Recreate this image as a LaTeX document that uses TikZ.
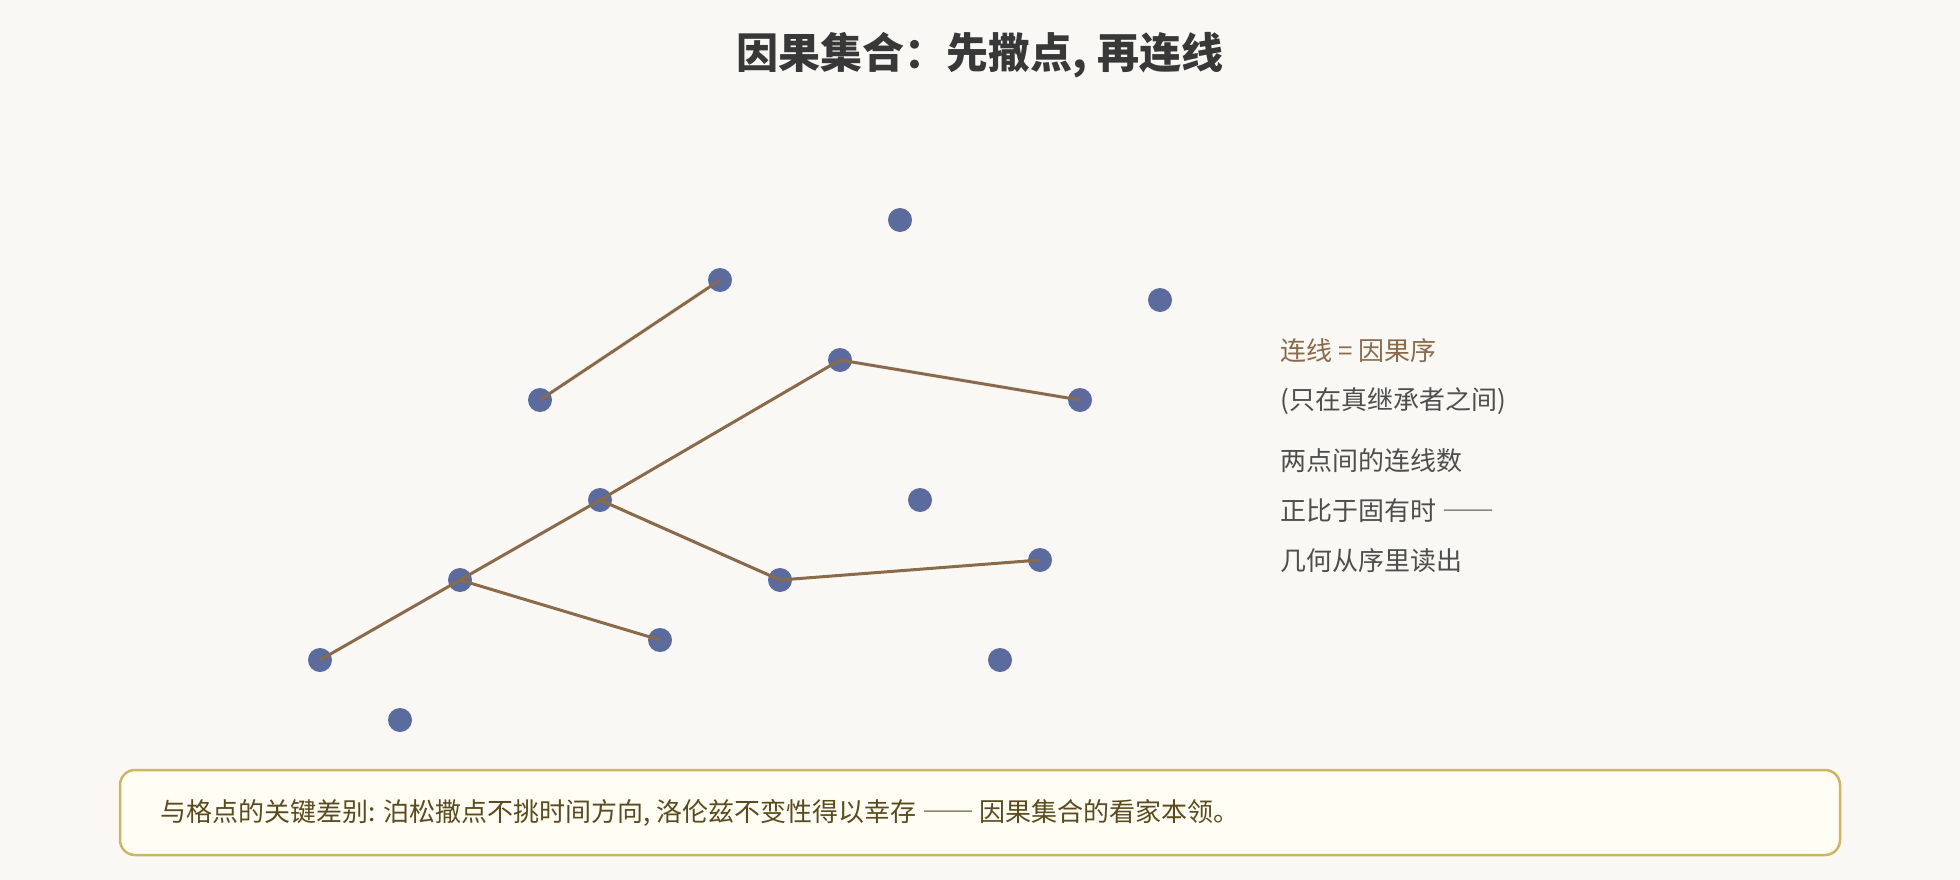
\documentclass[tikz,border=0pt]{standalone}
\usepackage{fontspec}
\setmainfont{Noto Sans CJK SC}
\usetikzlibrary{positioning}

\definecolor{paper}{HTML}{F9F8F4}
\definecolor{dotblue}{HTML}{5B6B9E}
\definecolor{linkbrown}{HTML}{8B6A4A}
\definecolor{inkgray}{HTML}{4E4E4E}
\definecolor{titlegray}{HTML}{383838}
\definecolor{notegold}{HTML}{CDB660}
\definecolor{notefill}{HTML}{FFFDF4}
\definecolor{noteink}{HTML}{5A4A1C}
\newcommand{\longdash}{{\addfontfeatures{CharacterWidth=Full}——}}

\begin{document}
\begin{tikzpicture}[x=1pt,y=-1pt,on grid,
    event/.style={circle,fill=dotblue,inner sep=0pt,minimum size=24pt},
    link/.style={draw=linkbrown,line width=3pt},
    side/.style={anchor=west,inner sep=0pt,text=inkgray,font=\fontsize{26}{30}\selectfont}]
      \fill[paper] (0,0) rectangle (1960,880);
      \node[font=\fontsize{42}{46}\selectfont\bfseries,text=titlegray] (title) at (980,55) {因果集合：先撒点, 再连线};

      % the sprinkled events
      \node[event] (p0)  at (900,220)  {};
      \node[event] (p1)  at (720,280)  {};
      \node[event] (p2)  at (1160,300) {};
      \node[event] (p3)  at (540,400)  {};
      \node[event] (p4)  at (840,360)  {};
      \node[event] (p5)  at (1080,400) {};
      \node[event] (p6)  at (600,500)  {};
      \node[event] (p7)  at (920,500)  {};
      \node[event] (p8)  at (460,580)  {};
      \node[event] (p9)  at (780,580)  {};
      \node[event] (p10) at (1040,560) {};
      \node[event] (p11) at (660,640)  {};
      \node[event] (p12) at (320,660)  {};
      \node[event] (p13) at (1000,660) {};
      \node[event] (p14) at (400,720)  {};

      \path[link] (p3.center)  edge (p1.center)
                  (p12.center) edge (p8.center)
                  (p8.center)  edge (p6.center)
                  (p6.center)  edge (p4.center)
                  (p4.center)  edge (p5.center)
                  (p6.center)  edge (p9.center)
                  (p9.center)  edge (p10.center)
                  (p8.center)  edge (p11.center);

      \node[side,text=linkbrown] (t1) at (1280,351) {连线 = 因果序};
      \node[side] (t2) [below=50pt of t1.west,anchor=west] {(只在真继承者之间)};
      \node[side] (t3) [below=60pt of t2.west,anchor=west] {两点间的连线数};
      \node[side] (t4) [below=50pt of t3.west,anchor=west] {正比于固有时 \longdash};
      \node[side] (t5) [below=50pt of t4.west,anchor=west] {几何从序里读出};

      \draw[notegold,fill=notefill,line width=2.5pt,rounded corners=15pt] (120,770) rectangle (1840,855);
      \node[side,text=noteink] (note) at (160,813) {与格点的关键差别: 泊松撒点不挑时间方向, 洛伦兹不变性得以幸存 \longdash{} 因果集合的看家本领。};
    \end{tikzpicture}
\end{document}
